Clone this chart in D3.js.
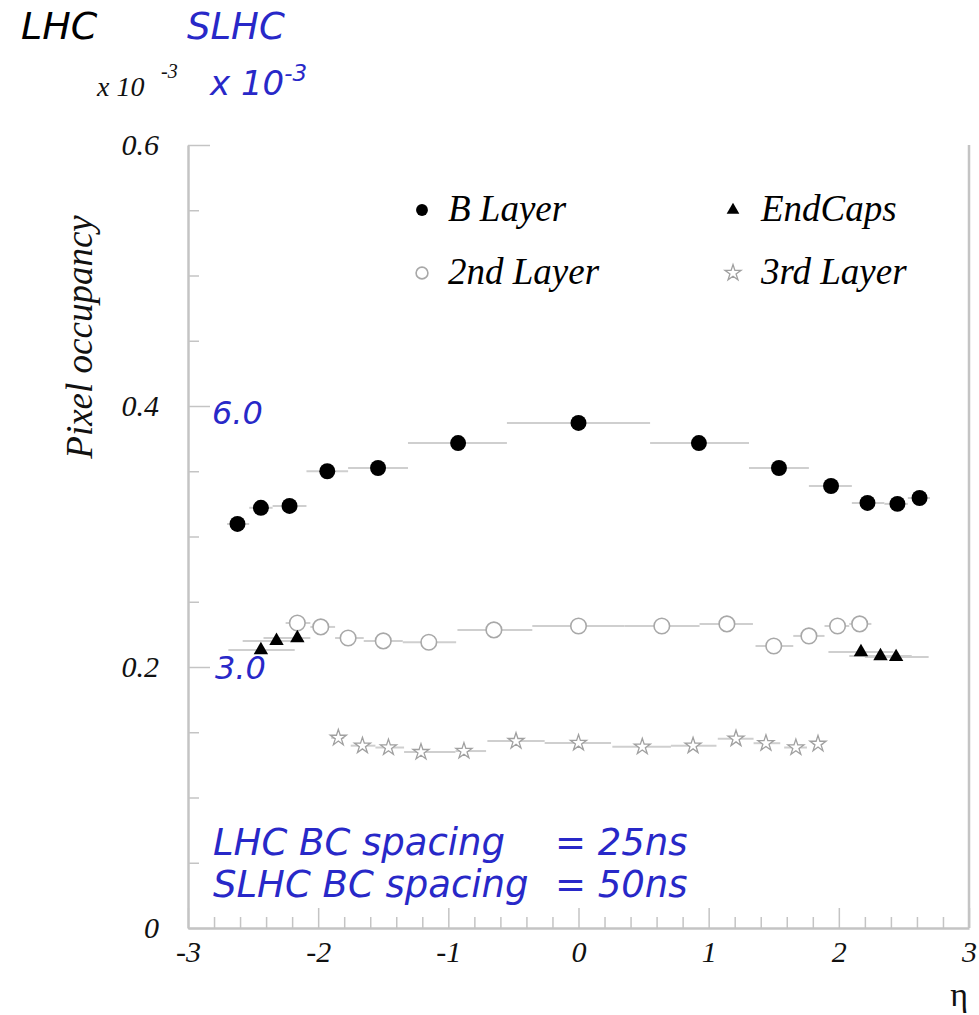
<!DOCTYPE html>
<html>
<head>
<meta charset="utf-8">
<script src="https://cdn.jsdelivr.net/npm/d3@7"></script>
<style>
    body { margin: 0; background: #fff; }
    .tick text { font-family: "Liberation Serif", "Times New Roman", serif; font-style: italic; fill: #111; }
    .blue { font-family: "DejaVu Sans", Verdana, sans-serif; font-style: italic; fill: #2828c8; }
</style>
</head>
<body>
<div id="chart"></div>
<script>

// B Layer (filled circles)
var bEta = [-2.62, -2.44, -2.22, -1.93, -1.54, -0.925, 0, 0.925, 1.54, 1.94, 2.22, 2.45, 2.62];
var bOcc = [0.3096, 0.322, 0.3234, 0.350, 0.3525, 0.3716, 0.387, 0.3716, 0.3525, 0.3387, 0.3257, 0.325, 0.3295];
var bLo  = [-2.70, -2.53, -2.35, -2.09, -1.77, -1.31, -0.55, 0.55, 1.31, 1.77, 2.10, 2.35, 2.53];
var bHi  = [-2.53, -2.35, -2.09, -1.77, -1.31, -0.55, 0.55, 1.31, 1.77, 2.10, 2.35, 2.53, 2.70];

// 2nd Layer (open circles)
var sEta = [-2.16, -1.98, -1.77, -1.50, -1.15, -0.65, 0, 0.64, 1.14, 1.50, 1.77, 1.99, 2.16];
var sOcc = [0.2337, 0.2307, 0.2222, 0.220, 0.219, 0.2284, 0.2314, 0.2314, 0.233, 0.2161, 0.2238, 0.2314, 0.233];
var sLo  = [-2.25, -2.06, -1.87, -1.65, -1.35, -0.93, -0.355, 0.355, 0.93, 1.36, 1.65, 1.89, 2.08];
var sHi  = [-2.06, -1.87, -1.65, -1.35, -0.94, -0.355, 0.355, 0.93, 1.34, 1.65, 1.89, 2.08, 2.25];

// EndCaps (triangles)
var eEta = [-2.44, -2.32, -2.16, 2.17, 2.32, 2.44];
var eOcc = [0.213, 0.220, 0.2222, 0.2115, 0.2084, 0.2077];
var eLo  = [-2.69, -2.58, -2.42, 1.92, 2.08, 2.20];
var eHi  = [-2.18, -2.11, -2.06, 2.42, 2.56, 2.69];

// 3rd Layer (stars)
var tEta = [-1.845, -1.66, -1.46, -1.21, -0.88, -0.48, 0, 0.49, 0.88, 1.21, 1.44, 1.67, 1.84];
var tOcc = [0.1457, 0.1397, 0.1383, 0.1348, 0.1356, 0.1432, 0.1418, 0.1389, 0.1397, 0.1451, 0.1416, 0.1383, 0.1411];
var tLo  = [-1.90, -1.75, -1.56, -1.34, -0.945, -0.70, -0.26, 0.26, 0.71, 1.07, 1.345, 1.58, 1.80];
var tHi  = [-1.80, -1.56, -1.34, -0.945, -0.71, -0.26, 0.25, 0.71, 1.06, 1.345, 1.55, 1.755, 1.88];

var xMajor = [-3, -2, -1, 0, 1, 2, 3];
var yMajor = [0, 0.2, 0.4, 0.6];

var legendItems = [
    {name: "B Layer", kind: "b", col: 0, row: 0},
    {name: "EndCaps", kind: "e", col: 1, row: 0},
    {name: "2nd Layer", kind: "s", col: 0, row: 1},
    {name: "3rd Layer", kind: "t", col: 1, row: 1}
];

function zipSeries(eta, occ, lo, hi) {
    return eta.map(function(d, i) { return {eta: d, occ: occ[i], lo: lo[i], hi: hi[i]}; });
}

var width = 979, height = 1015;

var svg = d3.select("#chart").append("svg")
    .attr("width", width)
    .attr("height", height);

var x = d3.scaleLinear().domain([-3, 3]).range([188, 969]);
var y = d3.scaleLinear().domain([0, 0.6]).range([928, 145]);

var axisCol = "#c4c4c4";

// minor ticks
var xMinor = d3.range(-30, 31, 2).map(function(d) { return d / 10; })
    .filter(function(d) { return xMajor.indexOf(d) < 0; });
var yMinor = d3.range(1, 12, 2).map(function(d) { return d * 0.05; })
    .concat([0.1, 0.3, 0.5]);

svg.append("g")
    .attr("transform", "translate(0," + y(0) + ")")
    .call(d3.axisBottom(x).tickValues(xMinor).tickSize(-11).tickFormat(""))
    .call(function(g) { g.select(".domain").remove(); });

svg.append("g")
    .attr("transform", "translate(" + x(-3) + ",0)")
    .call(d3.axisLeft(y).tickValues(yMinor).tickSize(-11).tickFormat(""))
    .call(function(g) { g.select(".domain").remove(); });

// major axes
svg.append("g")
    .attr("class", "xaxis")
    .attr("transform", "translate(0," + y(0) + ")")
    .call(d3.axisBottom(x).tickValues(xMajor).tickSize(-20).tickSizeOuter(0).tickPadding(13)
        .tickFormat(function(d) { return String(d); }));

svg.append("g")
    .attr("class", "yaxis")
    .attr("transform", "translate(" + x(-3) + ",0)")
    .call(d3.axisLeft(y).tickValues(yMajor).tickSize(-22).tickSizeOuter(0).tickPadding(29)
        .tickFormat(function(d) { return d === 0 ? "0" : d.toFixed(1); }));

svg.selectAll(".tick text").attr("font-size", 30);
svg.selectAll(".tick line").attr("stroke", axisCol).attr("stroke-width", 1.5);
svg.selectAll(".domain").attr("stroke", axisCol).attr("stroke-width", 2.5);

// right frame
svg.append("line")
    .attr("x1", x(3)).attr("x2", x(3))
    .attr("y1", y(0)).attr("y2", y(0.6))
    .attr("stroke", axisCol).attr("stroke-width", 2.5);

// axis titles
svg.append("text")
    .attr("transform", "translate(92," + 337 + ") rotate(-90)")
    .attr("text-anchor", "middle")
    .attr("font-family", "Liberation Serif, serif")
    .attr("font-style", "italic")
    .attr("font-size", 37)
    .attr("fill", "#111")
    .text("Pixel occupancy");

svg.append("text")
    .attr("x", 968).attr("y", 1006)
    .attr("text-anchor", "end")
    .attr("font-family", "Liberation Serif, serif")
    .attr("font-size", 34)
    .attr("fill", "#111")
    .text("η");

// error bars + markers
var barCol = "#cfcfcf";

function drawBars(data, cls) {
    svg.selectAll("line." + cls)
        .data(data)
        .enter().append("line")
        .attr("class", cls)
        .attr("x1", function(d) { return x(d.lo); })
        .attr("x2", function(d) { return x(d.hi); })
        .attr("y1", function(d) { return y(d.occ); })
        .attr("y2", function(d) { return y(d.occ); })
        .attr("stroke", barCol)
        .attr("stroke-width", 2);
}

var bData = zipSeries(bEta, bOcc, bLo, bHi);
var sData = zipSeries(sEta, sOcc, sLo, sHi);
var eData = zipSeries(eEta, eOcc, eLo, eHi);
var tData = zipSeries(tEta, tOcc, tLo, tHi);

drawBars(tData, "tbar");
drawBars(sData, "sbar");
drawBars(eData, "ebar");
drawBars(bData, "bbar");

var symbols = {
    b: {type: d3.symbolCircle, size: 200, fill: "#000", stroke: "none", sw: 0},
    s: {type: d3.symbolCircle, size: 190, fill: "#fff", stroke: "#a8a8a8", sw: 1.6},
    e: {type: d3.symbolTriangle, size: 90, fill: "#000", stroke: "none", sw: 0},
    t: {type: d3.symbolStar, size: 80, fill: "#fff", stroke: "#a0a0a0", sw: 1.3}
};

function drawMarks(data, kind) {
    var s = symbols[kind];
    svg.selectAll("path.m" + kind)
        .data(data)
        .enter().append("path")
        .attr("class", "m" + kind)
        .attr("d", d3.symbol().type(s.type).size(s.size))
        .attr("transform", function(d) { return "translate(" + x(d.eta) + "," + y(d.occ) + ")"; })
        .attr("fill", s.fill)
        .attr("stroke", s.stroke)
        .attr("stroke-width", s.sw);
}

drawMarks(tData, "t");
drawMarks(sData, "s");
drawMarks(eData, "e");
drawMarks(bData, "b");

// legend
var legend = svg.selectAll("g.legend")
    .data(legendItems)
    .enter().append("g")
    .attr("class", "legend")
    .attr("transform", function(d) { return "translate(" + (d.col ? 733 : 422) + "," + (210 + d.row * 63) + ")"; });

legend.append("path")
    .attr("d", function(d) {
        var s = symbols[d.kind];
        var sz = d.kind === "b" ? 110 : d.kind === "s" ? 110 : d.kind === "e" ? 70 : 80;
        return d3.symbol().type(s.type).size(sz)();
    })
    .attr("fill", function(d) { return symbols[d.kind].fill; })
    .attr("stroke", function(d) { return symbols[d.kind].stroke; })
    .attr("stroke-width", function(d) { return symbols[d.kind].sw; });

legend.append("text")
    .attr("x", function(d) { return d.col ? 28 : 26; })
    .attr("y", 11)
    .attr("font-family", "Liberation Serif, serif")
    .attr("font-style", "italic")
    .attr("font-size", 37)
    .attr("fill", "#000")
    .text(function(d) { return d.name; });

// header labels
svg.append("text")
    .attr("x", 21).attr("y", 39)
    .attr("font-family", "DejaVu Sans, Verdana, sans-serif")
    .attr("font-style", "italic")
    .attr("font-size", 38)
    .attr("fill", "#000")
    .text("LHC");

svg.append("text")
    .attr("class", "blue")
    .attr("x", 187).attr("y", 39)
    .attr("font-size", 37)
    .text("SLHC");

var lhcExp = svg.append("text")
    .attr("x", 97).attr("y", 96)
    .attr("font-family", "Liberation Serif, serif")
    .attr("font-style", "italic")
    .attr("font-size", 28)
    .attr("fill", "#111");
lhcExp.append("tspan").text("x 10");
lhcExp.append("tspan").attr("x", 161).attr("y", 78).attr("font-size", 20).text("-3");

var slhcExp = svg.append("text")
    .attr("class", "blue")
    .attr("x", 210).attr("y", 95)
    .attr("font-size", 34);
slhcExp.append("tspan").text("x 10");
slhcExp.append("tspan").attr("dy", -14).attr("font-size", 23).text("-3");

svg.append("text").attr("class", "blue")
    .attr("x", 212).attr("y", 424).attr("font-size", 32).text("6.0");
svg.append("text").attr("class", "blue")
    .attr("x", 215).attr("y", 679).attr("font-size", 32).text("3.0");

var notes = [["LHC BC spacing", "= 25ns"], ["SLHC BC spacing", "= 50ns"]];
notes.forEach(function(n, i) {
    svg.append("text").attr("class", "blue")
        .attr("x", 213).attr("y", 855 + i * 42).attr("font-size", 37).text(n[0]);
    svg.append("text").attr("class", "blue")
        .attr("x", 555).attr("y", 855 + i * 42).attr("font-size", 37).text(n[1]);
});

</script>
</body>
</html>
